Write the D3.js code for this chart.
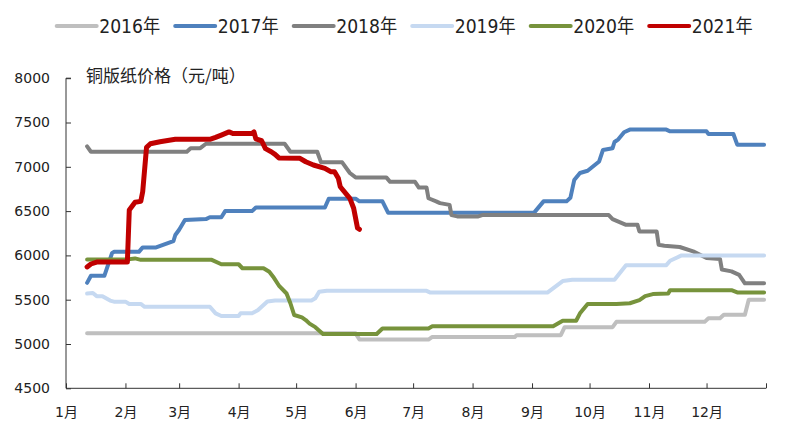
<!DOCTYPE html>
<html>
<head>
<meta charset="utf-8">
<script src="https://cdn.jsdelivr.net/npm/d3@7"></script>
<style>
  body { margin: 0; background: #fff; }
  svg { display: block; }
</style>
</head>
<body>
<svg id="chart" width="796" height="443"></svg>
<script>
// years shown in legend, one series per year
var years = ["2016年", "2017年", "2018年", "2019年", "2020年", "2021年"];
var colors = ["#BFBFBF", "#4F81BD", "#808080", "#C6D9F1", "#77933C", "#C00000"];
var monthLabels = ["1月","2月","3月","4月","5月","6月","7月","8月","9月","10月","11月","12月"];
var yTicks = [4500, 5000, 5500, 6000, 6500, 7000, 7500, 8000];

// [month-day, price]
var s2016 = [["1-12",5120],["6-1",5120],["6-3",5050],["7-9",5050],["7-11",5080],["8-23",5080],["8-24",5100],
  ["9-16",5100],["9-18",5190],["10-13",5190],["10-15",5250],["11-30",5250],["12-2",5290],["12-8",5290],
  ["12-10",5330],["12-21",5330],["12-23",5500],["12-31",5500]];
var s2017 = [["1-12",5690],["1-14",5770],["1-21",5770],["1-25",6025],["1-26",6040],["2-8",6040],["2-10",6090],
  ["2-17",6090],["2-26",6160],["2-27",6230],["3-1",6290],["3-4",6400],["3-15",6410],["3-17",6430],["3-23",6430],
  ["3-25",6500],["4-8",6500],["4-10",6540],["5-16",6540],["5-18",6640],["6-1",6640],["6-3",6610],["6-15",6610],
  ["6-18",6480],["9-2",6480],["9-7",6610],["9-19",6610],["9-21",6650],["9-23",6850],["9-26",6930],["9-30",6955],
  ["10-6",7060],["10-8",7190],["10-13",7210],["10-14",7280],["10-16",7310],["10-19",7390],["10-22",7420],
  ["11-10",7420],["11-12",7400],["12-1",7400],["12-2",7370],["12-15",7370],["12-17",7250],["12-31",7250]];
var s2018 = [["1-12",7230],["1-14",7170],["3-5",7170],["3-7",7210],["3-12",7210],["3-15",7260],["4-25",7260],
  ["4-28",7170],["5-12",7170],["5-14",7050],["5-25",7050],["5-29",6930],["6-1",6880],["6-17",6880],["6-19",6830],
  ["7-2",6830],["7-4",6765],["7-8",6765],["7-9",6645],["7-13",6610],["7-15",6590],["7-20",6570],["7-21",6455],
  ["7-24",6440],["8-4",6440],["8-6",6455],["10-11",6455],["10-13",6410],["10-20",6345],["10-26",6345],
  ["10-27",6270],["11-5",6270],["11-6",6120],["11-9",6110],["11-17",6095],["11-24",6045],["12-1",5970],
  ["12-8",5960],["12-9",5840],["12-14",5820],["12-18",5780],["12-21",5685],["12-31",5685]];
var s2019 = [["1-12",5570],["1-15",5575],["1-17",5540],["1-20",5540],["1-24",5490],["1-26",5478],["2-1",5478],
  ["2-3",5452],["2-9",5452],["2-11",5420],["3-17",5420],["3-20",5346],["3-23",5316],["4-1",5316],["4-2",5346],
  ["4-8",5346],["4-11",5380],["4-16",5480],["4-20",5490],["5-9",5490],["5-11",5516],["5-13",5590],["5-17",5600],
  ["7-8",5600],["7-10",5580],["9-9",5580],["9-17",5710],["9-22",5725],["10-14",5725],["10-20",5890],
  ["11-10",5890],["11-12",5940],["11-18",6000],["12-31",6000]];
var s2020 = [["1-12",5955],["2-2",5955],["2-6",5966],["2-9",5950],["3-18",5950],["3-23",5900],["4-1",5900],
  ["4-3",5855],["4-14",5855],["4-17",5815],["4-19",5760],["4-22",5660],["4-26",5570],["4-28",5460],["4-30",5327],
  ["5-4",5300],["5-6",5270],["5-8",5230],["5-11",5190],["5-15",5113],["6-12",5113],["6-15",5175],["7-9",5175],
  ["7-11",5200],["9-12",5200],["9-17",5262],["9-24",5262],["9-26",5346],["9-30",5452],["10-15",5452],
  ["10-22",5460],["10-27",5495],["10-30",5540],["11-3",5563],["11-11",5571],["11-12",5608],["12-14",5608],
  ["12-17",5582],["12-31",5582]];
var s2021 = [["1-12",5870],["1-14",5903],["1-17",5925],["2-2",5925],["2-3",6513],["2-6",6600],["2-9",6610],
  ["2-10",6720],["2-12",7220],["2-14",7260],["2-19",7283],["2-27",7310],["3-17",7310],["3-20",7332],
  ["3-23",7358],["3-27",7394],["3-29",7376],["4-8",7376],["4-9",7394],["4-10",7315],["4-13",7294],
  ["4-15",7205],["4-18",7170],["4-20",7140],["4-22",7100],["5-3",7096],["5-6",7057],["5-10",7020],
  ["5-16",6983],["5-19",6945],["5-21",6945],["5-23",6870],["5-24",6775],["5-29",6644],["5-31",6532],
  ["6-2",6310],["6-3",6295]];

var series = [s2016, s2017, s2018, s2019, s2020, s2021];
var widths = [4, 4, 4, 4, 4, 5];

var svg = d3.select("#chart");
var font = "'DejaVu Sans','Noto Sans CJK SC',sans-serif";

var parse = function(md){
  var p = md.split("-");
  return new Date(2021, +p[0]-1, +p[1]);
};

var x = d3.scaleTime()
  .domain([new Date(2021,0,1), new Date(2022,0,1)])
  .range([66, 766]);
var y = d3.scaleLinear().domain([4500, 8000]).range([388.3, 78.2]);

// y axis
var yAxis = d3.axisRight(y).tickValues(yTicks).tickSize(5).tickFormat(d3.format("d"));
var gy = svg.append("g").attr("transform", "translate(66,0)").call(yAxis);
gy.select(".domain").attr("stroke", "#333").attr("d", "M5," + y(8000) + "H0V" + y(4500));
gy.selectAll(".tick line").attr("stroke", "#333");
gy.selectAll(".tick text").attr("x", -16).attr("text-anchor", "end")
  .attr("font-family", font).attr("font-size", 14).attr("fill", "#222");

// x axis
var months = d3.range(12).map(function(i){ return new Date(2021, i, 1); });
var xAxis = d3.axisBottom(x).tickValues(months.concat([new Date(2022,0,1)])).tickSize(-5)
  .tickFormat(function(d, i){ return i < 12 ? monthLabels[i] : ""; });
var gx = svg.append("g").attr("transform", "translate(0," + y(4500) + ")").call(xAxis);
gx.select(".domain").attr("stroke", "#333").attr("d", "M" + x.range()[0] + ",0H" + x.range()[1]);
gx.selectAll(".tick line").attr("stroke", "#333");
gx.selectAll(".tick text").attr("y", 19).attr("font-family", font).attr("font-size", 14).attr("fill", "#222");

// axis title
svg.append("text").attr("x", 86).attr("y", 82)
  .attr("font-family", "'Noto Sans CJK SC',sans-serif").attr("font-size", 17).attr("fill", "#222")
  .text("铜版纸价格（元/吨）");

// lines
var line = d3.line()
  .x(function(d){ return x(parse(d[0])); })
  .y(function(d){ return y(d[1]); });

svg.append("g").selectAll("path")
  .data(series)
  .enter()
  .append("path")
  .attr("d", line)
  .attr("fill", "none")
  .attr("stroke", function(d, i){ return colors[i]; })
  .attr("stroke-width", function(d, i){ return widths[i]; })
  .attr("stroke-linejoin", "round")
  .attr("stroke-linecap", "round");

// legend
var lg = svg.append("g").selectAll("g")
  .data(years)
  .enter()
  .append("g")
  .attr("transform", function(d, i){ return "translate(" + (56.7 + i * 118.5) + ",26)"; });
lg.append("line").attr("x1", 0).attr("x2", 40).attr("y1", 0).attr("y2", 0)
  .attr("stroke", function(d, i){ return colors[i]; })
  .attr("stroke-width", 4).attr("stroke-linecap", "round");
lg.append("text").attr("x", 42.5).attr("y", 7)
  .attr("font-family", font).attr("font-size", 19).attr("fill", "#222")
  .attr("textLength", 61).attr("lengthAdjust", "spacingAndGlyphs")
  .text(function(d){ return d; });
</script>
</body>
</html>
